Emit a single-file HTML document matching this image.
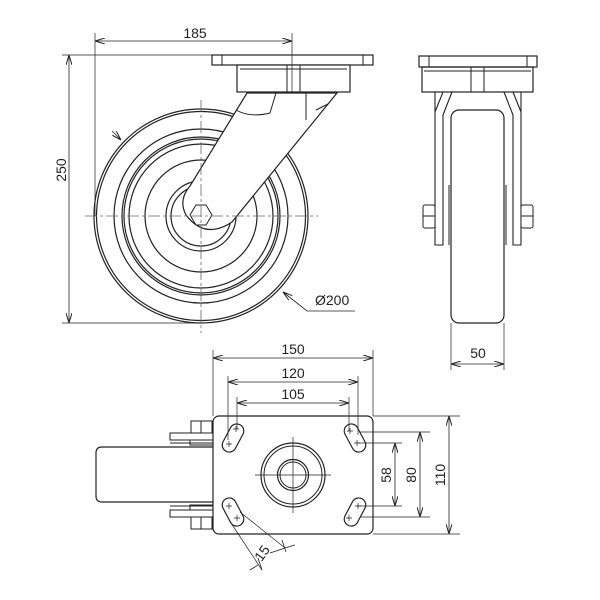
<!DOCTYPE html>
<html><head><style>body{margin:0;background:#fff}svg{display:block}text{font-family:"Liberation Sans",sans-serif;font-size:14px;fill:#222}</style></head>
<body>
<svg width="600" height="600" viewBox="0 0 600 600" xmlns="http://www.w3.org/2000/svg">
<defs>
<marker id="a" viewBox="0 0 10 6" refX="10" refY="3" markerWidth="10" markerHeight="6" orient="auto-start-reverse" markerUnits="userSpaceOnUse"><path d="M0,0L10,3L0,6" fill="none" stroke="#222" stroke-width="1"/></marker>
</defs>
<g fill="none" stroke="#222" stroke-width="1">
<!-- FRONT VIEW -->
<g stroke-width="1.2">
<circle cx="201" cy="216" r="107"/><circle cx="201" cy="216" r="104.5"/>
<circle cx="201" cy="216" r="87"/><circle cx="201" cy="216" r="79"/><circle cx="201" cy="216" r="77"/>
<circle cx="201" cy="216" r="72"/><circle cx="201" cy="216" r="56"/>
<circle cx="201" cy="216" r="35"/><circle cx="201" cy="216" r="30"/>
</g>
<path d="M247,93 L337,93 L232,222 Q205,240 186,215 Q178,200 190,186 Z" fill="#fff" stroke-width="1.2"/>
<path d="M236,110 Q250,118 270,113 L276,93 M306,93 L306,120 M316,110 L328,104" stroke-width="1"/>
<polygon points="212,215 206,225 196,225 190,215 196,205 206,205" fill="#fff"/>
<rect x="212" y="55" width="161" height="10" fill="#fff" stroke-width="1.2"/>
<path d="M222,55 V65 M363,55 V65"/>
<rect x="237" y="65" width="113" height="27" fill="#fff" stroke-width="1.2"/>
<path d="M240,69 H347 M287,65 V92 M300,65 V92"/>
<g stroke="#666" stroke-dasharray="12,3,3,3" stroke-width="0.8">
<path d="M201,100 V333 M85,216 H318"/>
</g>
<!-- dims front -->
<path d="M95,33 V216 M292,33 V92 M62,55 H212 M62,323 H200" stroke-width="0.7"/>
<path d="M95,41 H292" marker-start="url(#a)" marker-end="url(#a)" stroke-width="0.8"/>
<path d="M69,55 V323" marker-start="url(#a)" marker-end="url(#a)" stroke-width="0.8"/>
<path d="M112,131 L121,140" marker-end="url(#a)" stroke-width="0.8"/>
<path d="M355,311 H307 L283,292" marker-end="url(#a)" stroke-width="0.8"/>
<!-- SIDE VIEW -->
<rect x="419" y="56" width="118" height="11" stroke-width="1.2"/>
<path d="M429,56 V67 M527,56 V67"/>
<rect x="422" y="67" width="111" height="25" stroke-width="1.2"/>
<path d="M471,67 V92 M484,67 V92 M424,71 H531"/>
<path d="M435,92 V245 H443 V115 L452,92 M443,92 L435,112 M521,92 V245 H513 V115 L504,92 M513,92 L521,112" stroke-width="1.1"/>
<rect x="451" y="110" width="53" height="213" rx="8" stroke-width="1.2"/>
<path d="M449,185 V245 M506,185 V245"/>
<rect x="423" y="205" width="12" height="23" rx="2" fill="#fff"/><rect x="521" y="205" width="12" height="23" rx="2" fill="#fff"/>
<path d="M423,216 H435 M521,216 H533"/>
<path d="M451,323 V370 M504,323 V370" stroke-width="0.7"/>
<path d="M451,364 H504" marker-start="url(#a)" marker-end="url(#a)" stroke-width="0.8"/>
<!-- BOTTOM VIEW -->
<path d="M213,447 H102 Q96,447 96,453 V496 Q96,502 102,502 H213" stroke-width="1.2"/>
<path d="M170,443 H213 M170,506 H213"/>
<rect x="170" y="433" width="43" height="7"/><rect x="190" y="440" width="23" height="5"/>
<rect x="170" y="510" width="43" height="7"/><rect x="190" y="505" width="23" height="5"/>
<rect x="191" y="421" width="21" height="12"/><path d="M201,421 V433"/>
<rect x="191" y="517" width="21" height="12"/><path d="M201,517 V529"/>
<rect x="213" y="416" width="160" height="118" rx="6" fill="#fff" stroke-width="1.2"/>
<circle cx="293" cy="475" r="32" stroke-width="1.2"/><circle cx="293" cy="475" r="29"/>
<circle cx="293" cy="475" r="15.5" stroke-width="1.2"/><circle cx="293" cy="475" r="13"/>
<path d="M255,475 H331 M293,437 V513" stroke-width="0.7"/>
<g stroke-width="1.2">
<rect x="218" y="431" width="30" height="14" rx="7" transform="rotate(-62 233 438)"/>
<rect x="218" y="505" width="30" height="14" rx="7" transform="rotate(62 233 512)"/>
<rect x="340" y="431" width="30" height="14" rx="7" transform="rotate(62 355 438)"/>
<rect x="340" y="505" width="30" height="14" rx="7" transform="rotate(-62 355 512)"/>
</g>
<g stroke-width="0.7">
<path d="M233,429 h6 M236,426 v6 M226,444 h6 M229,441 v6 M347,431 h6 M350,428 v6 M354,443 h6 M357,440 v6 M226,506 h6 M229,503 v6 M234,518 h6 M237,515 v6 M355,506 h6 M358,503 v6 M346,518 h6 M349,515 v6"/>
<path d="M213,350 V416 M373,350 V416 M228,376 V440 M358,376 V435 M237,397 V429 M349,397 V431"/>
<path d="M373,416 H460 M373,534 H460 M360,432 H430 M360,517 H430 M357,443 H402 M357,506 H402"/>
<path d="M229,520 L262,570 M240,512 L285,548"/>
</g>
<g stroke-width="0.8">
<path d="M213,358 H373" marker-start="url(#a)" marker-end="url(#a)"/>
<path d="M228,382 H358" marker-start="url(#a)" marker-end="url(#a)"/>
<path d="M237,403 H349" marker-start="url(#a)" marker-end="url(#a)"/>
<path d="M395,443 V506" marker-start="url(#a)" marker-end="url(#a)"/>
<path d="M420,432 V517" marker-start="url(#a)" marker-end="url(#a)"/>
<path d="M449,416 V534" marker-start="url(#a)" marker-end="url(#a)"/>
<path d="M250,570 L258,565 M270,553 L285,548 L295,545 M282,540 L286,552 M258,558 L262,570"/>
</g>
</g>
<text x="195" y="38" text-anchor="middle">185</text>
<text transform="translate(66,170) rotate(-90)" text-anchor="middle">250</text>
<text x="315" y="305">Ø200</text>
<text x="478" y="358" text-anchor="middle">50</text>
<text x="293" y="354" text-anchor="middle">150</text>
<text x="293" y="378" text-anchor="middle">120</text>
<text x="293" y="399" text-anchor="middle">105</text>
<text transform="translate(391,475) rotate(-90)" text-anchor="middle">58</text>
<text transform="translate(416,475) rotate(-90)" text-anchor="middle">80</text>
<text transform="translate(445,475) rotate(-90)" text-anchor="middle">110</text>
<text transform="translate(266,556) rotate(-55)" text-anchor="middle">15</text>
</svg>
</body></html>
